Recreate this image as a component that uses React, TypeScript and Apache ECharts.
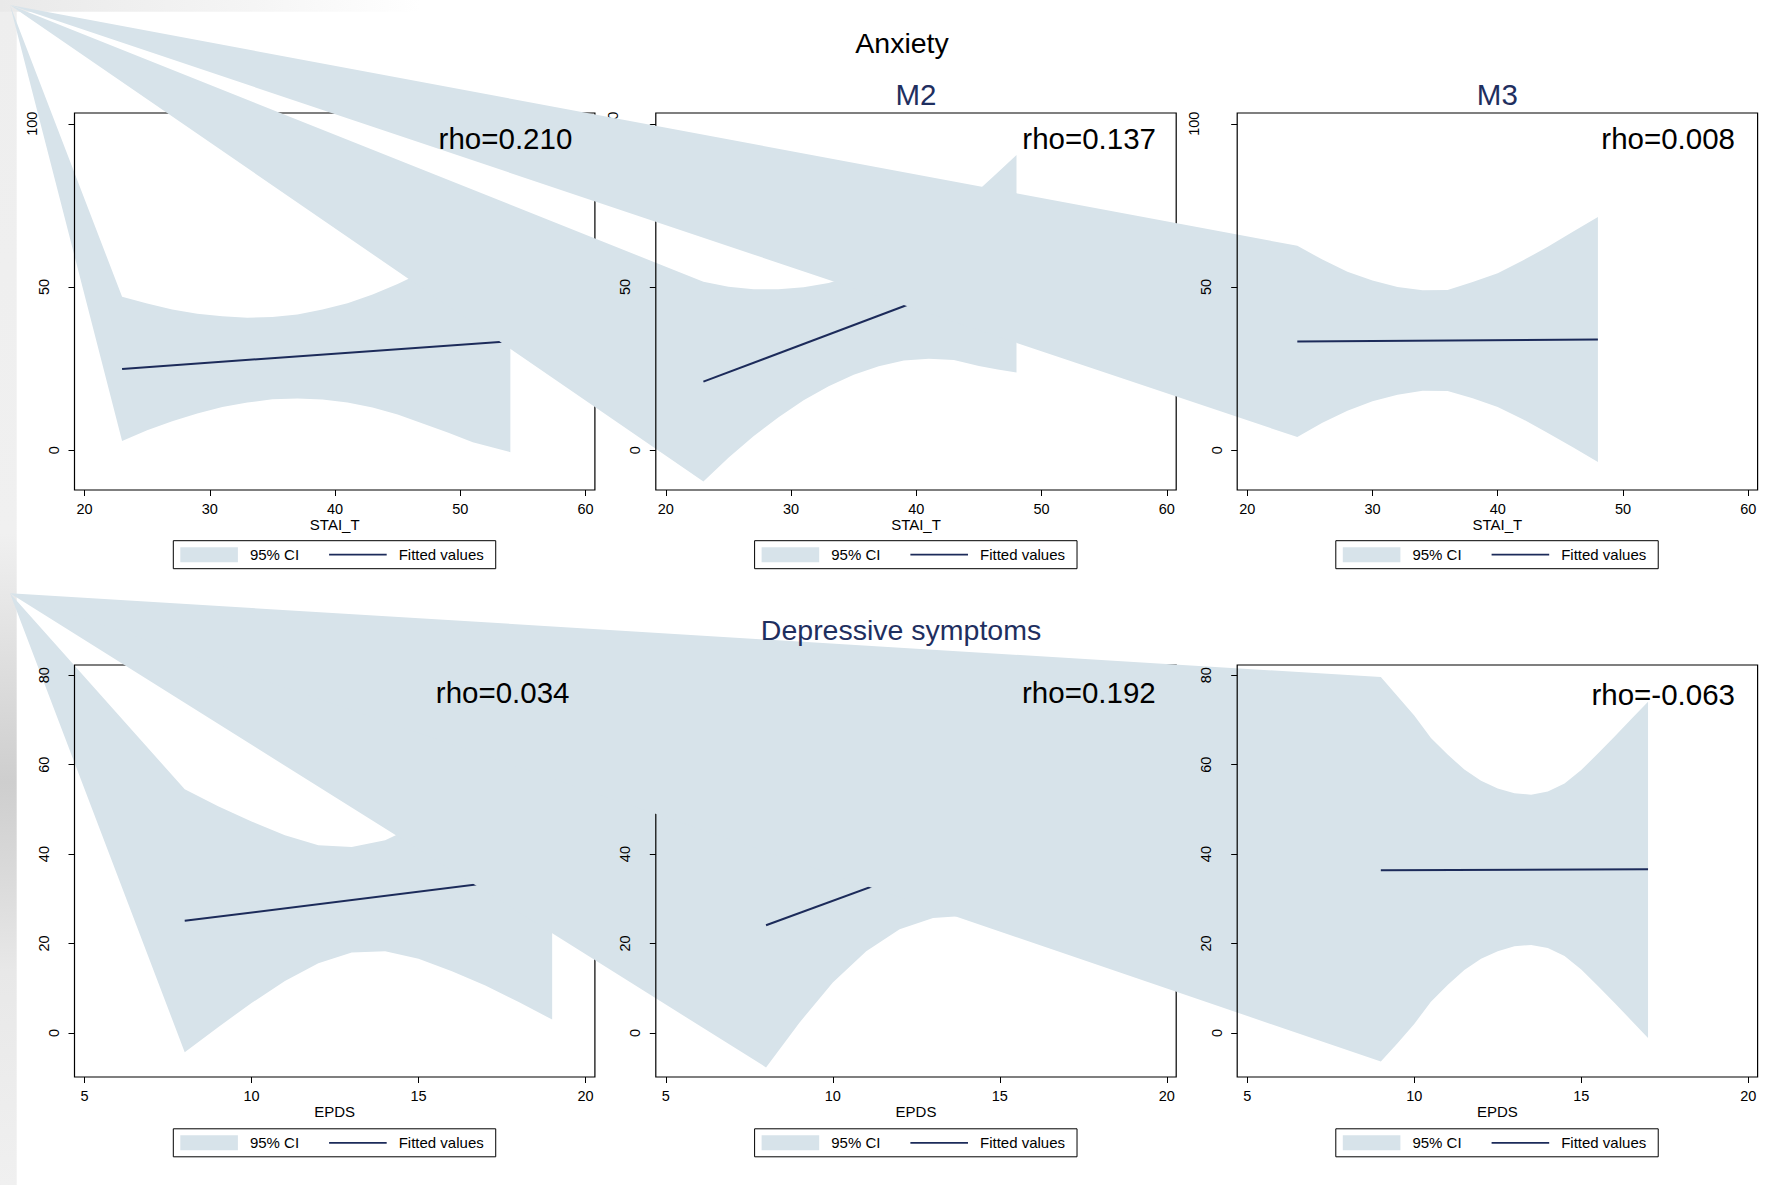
import React, { useEffect, useRef } from 'react';
import * as echarts from 'echarts';

// ---------------- data ----------------
const ANX_X_TICKS = [20, 30, 40, 50, 60];
const ANX_Y_TICKS = [0, 50, 100];
const DEP_X_TICKS = [5, 10, 15, 20];
const DEP_Y_TICKS = [0, 20, 40, 60, 80];

const ROW_TITLES = ['Anxiety', 'Depressive symptoms'];
const SUBTITLES = ['M2', 'M3'];
const X_NAMES = ['STAI_T', 'EPDS'];
const RHO_TOP = ['rho=0.210', 'rho=0.137', 'rho=0.008'];
const RHO_BOTTOM = ['rho=0.034', 'rho=0.192', 'rho=-0.063'];
const LEGEND_NAMES = ['95% CI', 'Fitted values'];

// Anxiety, panel 1
const A1_X = [23, 25, 27, 29, 31, 33, 35, 37, 39, 41, 43, 45, 47, 49, 51, 54];
const A1_HI = [47.0, 44.9, 43.1, 41.8, 41.0, 40.6, 40.8, 41.6, 43.1, 45.0, 47.7, 50.9, 54.6, 58.6, 62.6, 67.4];
const A1_LO = [2.8, 6.1, 8.9, 11.2, 13.2, 14.6, 15.6, 15.8, 15.5, 14.6, 13.1, 10.9, 8.2, 5.4, 2.4, -0.6];
const A1_FIT_X = [23, 54];
const A1_FIT_Y = [24.9, 33.4];

// Anxiety, M2
const A2_X = [23, 25, 27, 29, 31, 33, 35, 37, 39, 41, 43, 45, 46.5, 48];
const A2_HI = [51.6, 50.1, 49.3, 49.3, 49.9, 51.2, 53.5, 56.7, 60.7, 66.0, 72.2, 79.8, 85.1, 90.4];
const A2_LO = [-9.6, -2.3, 4.3, 10.1, 15.3, 19.6, 23.1, 25.7, 27.5, 28.0, 27.6, 25.8, 24.7, 23.8];
const A2_FIT_X = [23, 48];
const A2_FIT_Y = [21.0, 57.1];

// Anxiety, M3
const A3_X = [24, 26, 28, 30, 32, 34, 36, 38, 40, 42, 44, 46, 48];
const A3_HI = [62.6, 58.4, 54.7, 52.0, 50.0, 49.0, 49.1, 51.5, 54.2, 58.1, 62.3, 66.9, 71.4];
const A3_LO = [4.0, 8.4, 12.1, 15.0, 17.0, 18.2, 18.1, 15.9, 13.2, 9.5, 5.3, 0.9, -3.6];
const A3_FIT_X = [24, 48];
const A3_FIT_Y = [33.3, 33.9];

// Depressive symptoms, panel 1
const D1_X = [8, 9, 10, 11, 12, 13, 14, 15, 16, 17, 18, 19];
const D1_HI = [54.5, 50.7, 47.3, 44.2, 42.0, 41.6, 43.1, 46.6, 51.2, 56.4, 61.9, 67.6];
const D1_LO = [-4.3, 1.3, 6.7, 11.6, 15.6, 18.0, 18.3, 16.6, 13.8, 10.6, 6.9, 3.0];
const D1_FIT_X = [8, 19];
const D1_FIT_Y = [25.1, 35.3];

// Depressive symptoms, M2
const D2_X = [8, 9, 10, 11, 12, 13, 14, 15, 16, 17];
const D2_HI = [55.9, 51.3, 47.9, 46.3, 46.8, 49.9, 54.8, 61.0, 67.8, 75.0];
const D2_LO = [-7.7, 2.3, 11.3, 18.3, 23.2, 25.7, 26.2, 25.4, 24.0, 22.4];
const D2_FIT_X = [8, 17];
const D2_FIT_Y = [24.1, 48.7];

// Depressive symptoms, M3
const D3_X = [9, 9.5, 10, 10.5, 11, 11.5, 12, 12.5, 13, 13.5, 14, 14.5, 15, 15.5, 16, 16.5, 17];
const D3_HI = [79.6, 75.3, 71.0, 66.0, 62.3, 58.9, 56.4, 54.7, 53.6, 53.3, 54.0, 55.8, 58.8, 62.5, 66.3, 70.2, 74.1];
const D3_LO = [-6.4, -2.3, 2.0, 7.0, 10.7, 14.1, 16.6, 18.3, 19.4, 19.7, 19.0, 17.2, 14.2, 10.5, 6.7, 2.8, -1.1];
const D3_FIT_X = [9, 17];
const D3_FIT_Y = [36.4, 36.6];

// ---------------- styles / layout ----------------
const FONT = '"Liberation Sans", Arial, Helvetica, sans-serif';
const BAND = '#d7e3ea';
const NAVY = '#1c2b5a';
const TITLE_NAVY = '#1f2f5f';

const COL_LEFT = [74.5, 655.8, 1237.2];
const COL_W = 520.4;
const ROW_TOP = [113, 665];
const ROW_H = [377, 412];
const APEX = [[10, 5], [10, 593.3]];
const LEGEND_LEFT = [173.3, 754.6, 1335.8];
const LEGEND_TOP = [540.7, 1128.8];

const ROWS = [
  { xMin: 19.2, xMax: 60.75, yMin: -12.2, yMax: 103.3, xTicks: ANX_X_TICKS, yTicks: ANX_Y_TICKS },
  { xMin: 4.7, xMax: 20.28, yMin: -9.85, yMax: 82.3, xTicks: DEP_X_TICKS, yTicks: DEP_Y_TICKS },
];

const PANELS = [
  { row: 0, col: 0, x: A1_X, hi: A1_HI, lo: A1_LO, fx: A1_FIT_X, fy: A1_FIT_Y },
  { row: 0, col: 1, x: A2_X, hi: A2_HI, lo: A2_LO, fx: A2_FIT_X, fy: A2_FIT_Y },
  { row: 0, col: 2, x: A3_X, hi: A3_HI, lo: A3_LO, fx: A3_FIT_X, fy: A3_FIT_Y },
  { row: 1, col: 0, x: D1_X, hi: D1_HI, lo: D1_LO, fx: D1_FIT_X, fy: D1_FIT_Y },
  { row: 1, col: 1, x: D2_X, hi: D2_HI, lo: D2_LO, fx: D2_FIT_X, fy: D2_FIT_Y },
  { row: 1, col: 2, x: D3_X, hi: D3_HI, lo: D3_LO, fx: D3_FIT_X, fy: D3_FIT_Y },
];

function buildOption() {
  const grid: any[] = [];
  const xAxis: any[] = [];
  const yAxis: any[] = [];
  const series: any[] = [];
  const legend: any[] = [];

  const labelText = { color: '#000', fontFamily: FONT, fontSize: 14.5 };

  PANELS.forEach((p, i) => {
    const r = ROWS[p.row];
    const zb = 10 + 10 * p.col;
    grid.push({
      left: COL_LEFT[p.col], top: ROW_TOP[p.row], width: COL_W, height: ROW_H[p.row],
      show: true, borderColor: '#000', borderWidth: 1.2, backgroundColor: 'rgba(0,0,0,0)',
      containLabel: false, z: zb + 2,
    });
    xAxis.push({
      type: 'value', gridIndex: i, position: 'bottom', min: r.xMin, max: r.xMax, z: zb + 2,
      axisLine: { show: false, onZero: false },
      splitLine: { show: false },
      axisTick: { show: true, inside: false, length: 6, lineStyle: { color: '#000', width: 1 }, customValues: r.xTicks },
      axisLabel: { ...labelText, margin: 11, customValues: r.xTicks },
      name: X_NAMES[p.row], nameLocation: 'middle', nameGap: 25.4,
      nameTextStyle: { color: '#000', fontFamily: FONT, fontSize: 15 },
    });
    yAxis.push({
      type: 'value', gridIndex: i, position: 'left', min: r.yMin, max: r.yMax, z: zb + 2,
      axisLine: { show: false, onZero: false },
      splitLine: { show: false },
      axisTick: { show: true, inside: false, length: 6, lineStyle: { color: '#000', width: 1 }, customValues: r.yTicks },
      axisLabel: {
        ...labelText, margin: 13, rotate: 90, customValues: r.yTicks,
        formatter: (v: number) => {
          const s = String(v);
          return `{p${s.length}|${s}}`;
        },
        rich: {
          p1: { ...labelText, padding: [0, 0, 0, 0] },
          p2: { ...labelText, padding: [0, 0, 10.5, 0] },
          p3: { ...labelText, padding: [0, 0, 22.5, 0] },
        },
      },
    });

    const apex = APEX[p.row];
    series.push({
      type: 'custom', name: LEGEND_NAMES[0], xAxisIndex: i, yAxisIndex: i, z: zb,
      clip: false, silent: true,
      itemStyle: { color: BAND },
      encode: { x: 0, y: [1, 2] },
      data: p.x.map((x, k) => [x, p.lo[k], p.hi[k]]),
      renderItem: (params: any, api: any) => {
        if (params.dataIndex !== 0) return null;
        const pts: number[][] = [apex];
        for (let k = 0; k < p.x.length; k++) pts.push(api.coord([p.x[k], p.hi[k]]));
        for (let k = p.x.length - 1; k >= 0; k--) pts.push(api.coord([p.x[k], p.lo[k]]));
        return { type: 'polygon', shape: { points: pts }, style: { fill: BAND } };
      },
    });
    series.push({
      type: 'line', name: LEGEND_NAMES[1], xAxisIndex: i, yAxisIndex: i, z: zb + 1,
      symbol: 'none', silent: true,
      itemStyle: { color: NAVY },
      lineStyle: { color: NAVY, width: 2 },
      data: p.fx.map((x, k) => [x, p.fy[k]]),
    });

    legend.push({
      left: LEGEND_LEFT[p.col], top: LEGEND_TOP[p.row], orient: 'horizontal', z: 100,
      itemWidth: 57.6, itemHeight: 15, itemGap: 30,
      padding: [6.5, 12, 6.5, 7],
      borderColor: '#000', borderWidth: 1, backgroundColor: '#fff',
      selectedMode: false,
      textStyle: { color: '#000', fontFamily: FONT, fontSize: 15, padding: [0, 0, 0, 7] },
      data: [
        { name: LEGEND_NAMES[0], icon: 'rect', itemStyle: { color: BAND, borderWidth: 0 } },
        {
          name: LEGEND_NAMES[1],
          icon: 'path://M0,0M57.6,15M0,6.6L57.6,6.6L57.6,8.4L0,8.4Z',
          itemStyle: { color: NAVY, borderWidth: 0 },
        },
      ],
    });
  });

  const txt = (text: string, x: number, y: number, size: number, fill: string, align: string) => ({
    type: 'text', x, y, z: 100, silent: true,
    style: { text, fill, fontSize: size, fontFamily: FONT, align, verticalAlign: 'middle' },
  });

  const graphic: any[] = [
    {
      type: 'rect', z: 0, silent: true, shape: { x: 0, y: 0, width: 16.7, height: 1185 },
      style: {
        fill: {
          type: 'linear', x: 0, y: 0, x2: 0, y2: 1,
          colorStops: [
            { offset: 0, color: '#eeeeee' },
            { offset: 0.45, color: '#f0f0f0' },
            { offset: 0.55, color: '#e0e0e0' },
            { offset: 0.66, color: '#cecece' },
            { offset: 0.74, color: '#dadada' },
            { offset: 0.82, color: '#e8e8e8' },
            { offset: 1, color: '#f0f0f0' },
          ],
        },
      },
    },
    {
      type: 'rect', z: 0, silent: true, shape: { x: 0, y: 0, width: 420, height: 11.7 },
      style: {
        fill: {
          type: 'linear', x: 0, y: 0, x2: 1, y2: 0,
          colorStops: [
            { offset: 0, color: '#e9e9e9' },
            { offset: 0.6, color: '#f5f5f5' },
            { offset: 1, color: '#ffffff' },
          ],
        },
      },
    },
    txt(ROW_TITLES[0], 902, 42.7, 28.5, '#000', 'center'),
    txt(SUBTITLES[0], 916, 94.5, 29.5, TITLE_NAVY, 'center'),
    txt(SUBTITLES[1], 1497.3, 94.5, 29.5, TITLE_NAVY, 'center'),
    txt(ROW_TITLES[1], 901, 630, 28.5, TITLE_NAVY, 'center'),
    txt(RHO_TOP[0], 572.3, 138, 29.5, '#000', 'right'),
    txt(RHO_TOP[1], 1156, 138, 29.5, '#000', 'right'),
    txt(RHO_TOP[2], 1735, 138, 29.5, '#000', 'right'),
    txt(RHO_BOTTOM[0], 569.5, 692.5, 29.5, '#000', 'right'),
    txt(RHO_BOTTOM[1], 1155.7, 692.5, 29.5, '#000', 'right'),
    txt(RHO_BOTTOM[2], 1735, 694.5, 29.5, '#000', 'right'),
  ];

  return {
    animation: false,
    backgroundColor: '#ffffff',
    textStyle: { fontFamily: FONT },
    grid, xAxis, yAxis, series, legend, graphic,
  };
}

export default function App() {
  const ref = useRef<HTMLDivElement>(null);
  useEffect(() => {
    if (!ref.current) return;
    const chart = echarts.init(ref.current, undefined, { renderer: 'svg', width: 1770, height: 1185 });
    chart.setOption(buildOption() as any);
    return () => chart.dispose();
  }, []);
  return (
    <div
      ref={ref}
      style={{ position: 'absolute', left: 0, top: 0, width: 1770, height: 1185, background: '#fff' }}
    />
  );
}
